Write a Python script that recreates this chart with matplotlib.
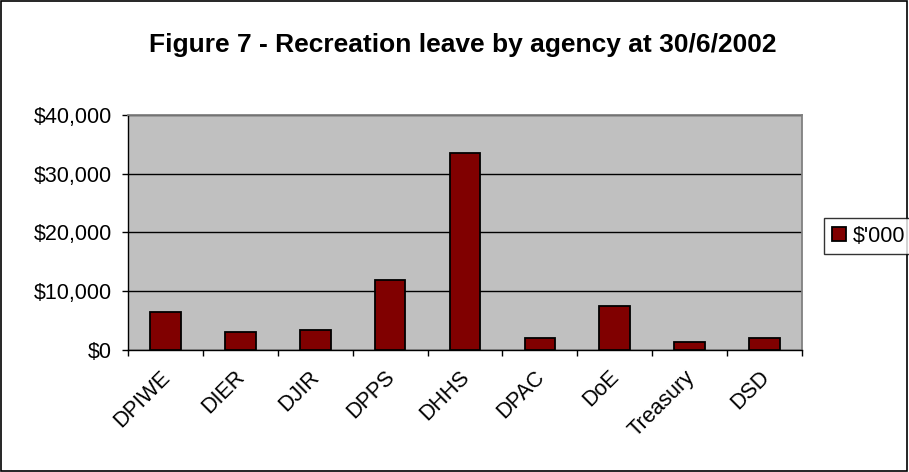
import matplotlib.pyplot as plt
import matplotlib.transforms as mtransforms
import numpy as np
from matplotlib.patches import Rectangle

plt.rcParams['font.family'] = ['Liberation Sans', 'DejaVu Sans']

agencies = ['DPIWE', 'DIER', 'DJIR', 'DPPS', 'DHHS', 'DPAC', 'DoE', 'Treasury', 'DSD']
leave = [6500, 3100, 3400, 11900, 33550, 2000, 7500, 1400, 2000]
yticks = [0, 10000, 20000, 30000, 40000]
ytick_labels = ['$0', '$10,000', '$20,000', '$30,000', '$40,000']

fig = plt.figure(figsize=(9.09, 4.72), dpi=100)
fig.patches.append(Rectangle((0.001, 0.002), 0.997, 0.996, transform=fig.transFigure,
                             fill=False, edgecolor='black', linewidth=1.2))

ax = fig.add_axes([0.1408, 0.2585, 0.7415, 0.4979])
ax.set_facecolor('#C0C0C0')
x = np.arange(len(agencies))
ax.bar(x, leave, width=0.41, color='#800000', edgecolor='black', linewidth=1.3,
       label="$'000", zorder=3)

ax.set_xlim(-0.5, len(agencies) - 0.5)
ax.set_ylim(0, 40000)
ax.set_yticks(yticks)
ax.set_yticklabels(ytick_labels, fontsize=15.5)
ax.yaxis.grid(True, color='black', linewidth=1, zorder=1)
ax.set_axisbelow(True)

# category labels at centres, tick marks at boundaries
ax.set_xticks(x)
ax.set_xticklabels(agencies, rotation=45, ha='right', va='top', rotation_mode='anchor',
                   fontsize=15.5)
ax.tick_params(axis='x', which='major', length=0, pad=12)
shift = mtransforms.ScaledTranslation(-0.06, 0, fig.dpi_scale_trans)
for lab in ax.get_xticklabels():
    lab.set_transform(lab.get_transform() + shift)
ax.set_xticks(np.arange(-0.5, len(agencies)), minor=True)
ax.tick_params(axis='x', which='minor', length=4.3, width=1, color='black')
ax.tick_params(axis='y', length=4.3, width=1, color='black', pad=7)

for side in ['top', 'right']:
    ax.spines[side].set_color('#808080')
    ax.spines[side].set_linewidth(1.3)
for side in ['left', 'bottom']:
    ax.spines[side].set_color('black')
    ax.spines[side].set_linewidth(1)

fig.text(0.509, 1 - 52 / 472, 'Figure 7 - Recreation leave by agency at 30/6/2002',
         ha='center', va='baseline', fontsize=19, fontweight='bold')

leg = fig.legend(loc='center left', bbox_to_anchor=(824 / 909, 1 - 236 / 472), fontsize=15.5,
                 frameon=True, fancybox=False, edgecolor='black', handlelength=0.65,
                 handleheight=0.65, handletextpad=0.33, borderpad=0.35, borderaxespad=0)
leg.get_frame().set_linewidth(1)

fig.savefig('out.png', dpi=100)
